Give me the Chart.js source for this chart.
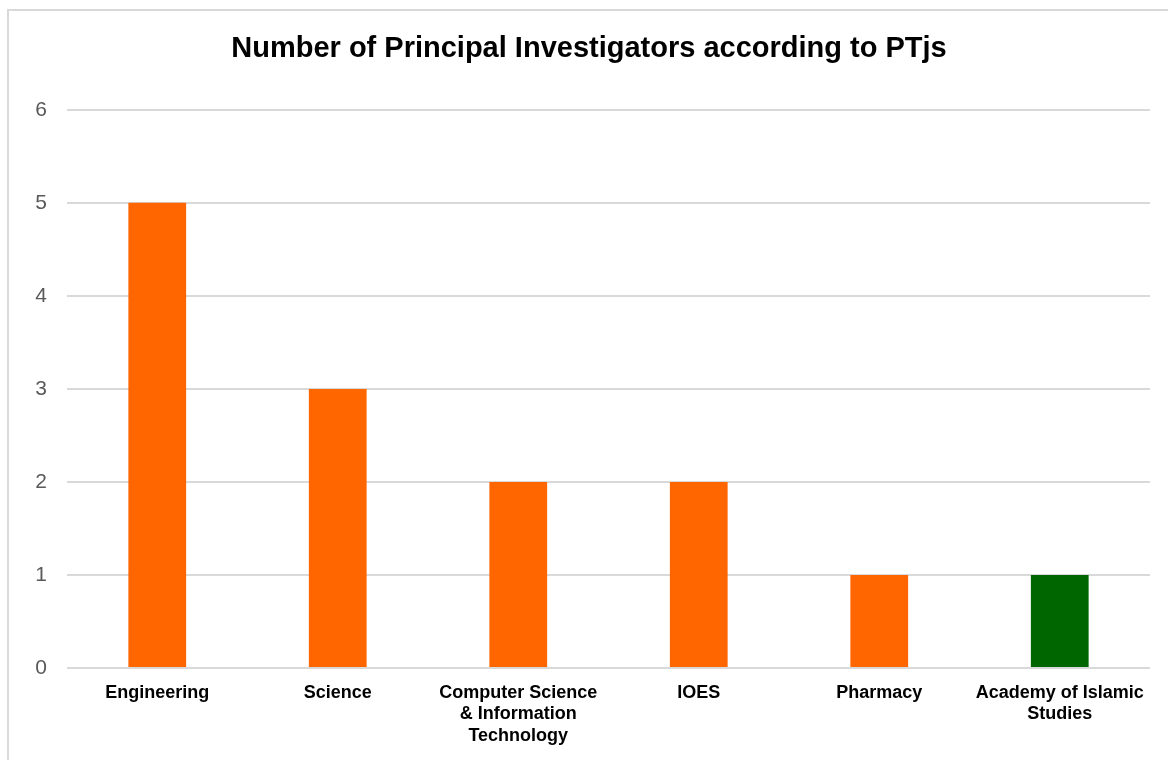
<!DOCTYPE html>
<html lang="en">
  <head>
    <meta charset="UTF-8" />
    <title>Number of Principal Investigators according to PTjs</title>
    <script src="https://cdn.jsdelivr.net/npm/chart.js"></script>
    <style>
      body { margin: 0; background: #fff; }
      #frame {
        position: absolute; left: 7px; top: 9px;
        width: 1200px; height: 800px;
        border: 2px solid #d9d9d9;
      }
      #wrap { position: absolute; left: 0; top: 0; width: 1168px; height: 760px; }
    </style>
  </head>
  <body>
    <div id="frame"></div>
    <div id="wrap"><canvas id="ptjChart"></canvas></div>

    <script>
      // data
      const categories = [
        "Engineering",
        "Science",
        ["Computer Science", "& Information", "Technology"],
        "IOES",
        "Pharmacy",
        ["Academy of Islamic", "Studies"],
      ];
      const investigators = [5, 3, 2, 2, 1, 1];
      const barColors = ["#FF6600", "#FF6600", "#FF6600", "#FF6600", "#FF6600", "#006600"];
      const yTicks = [0, 1, 2, 3, 4, 5, 6];

      const ctx = document.getElementById("ptjChart").getContext("2d");
      new Chart(ctx, {
        type: "bar",
        data: {
          labels: categories,
          datasets: [
            {
              label: "Principal Investigators",
              data: investigators,
              backgroundColor: barColors,
              borderWidth: 0,
              barPercentage: 0.32,
              categoryPercentage: 1,
            },
          ],
        },
        options: {
          responsive: true,
          maintainAspectRatio: false,
          animation: false,
          layout: { padding: { left: 28, right: 18, top: 0, bottom: 0 } },
          plugins: {
            legend: { display: false },
            tooltip: { enabled: false },
            title: {
              display: true,
              text: "Number of Principal Investigators according to PTjs",
              color: "#000",
              font: { family: "Liberation Sans, Arial, sans-serif", size: 29, weight: "bold", lineHeight: 1.2 },
              padding: { top: 32, bottom: 43 },
            },
          },
          scales: {
            x: {
              grid: { display: false },
              border: { display: false },
              ticks: {
                color: "#000",
                padding: 6,
                maxRotation: 0,
                autoSkip: false,
                font: { family: "Liberation Sans, Arial, sans-serif", size: 18, weight: "bold", lineHeight: 1.2 },
              },
              afterFit: (scale) => { scale.height = 92; },
            },
            y: {
              min: 0,
              max: 6,
              afterBuildTicks: (scale) => { scale.ticks = yTicks.map((v) => ({ value: v })); },
              grid: { color: "#d9d9d9", lineWidth: 2, drawTicks: false },
              border: { display: false },
              ticks: {
                color: "#595959",
                padding: 20,
                font: { family: "Liberation Sans, Arial, sans-serif", size: 21 },
              },
              afterFit: (scale) => { scale.width = 39; },
            },
          },
        },
      });
    </script>
  </body>
</html>
